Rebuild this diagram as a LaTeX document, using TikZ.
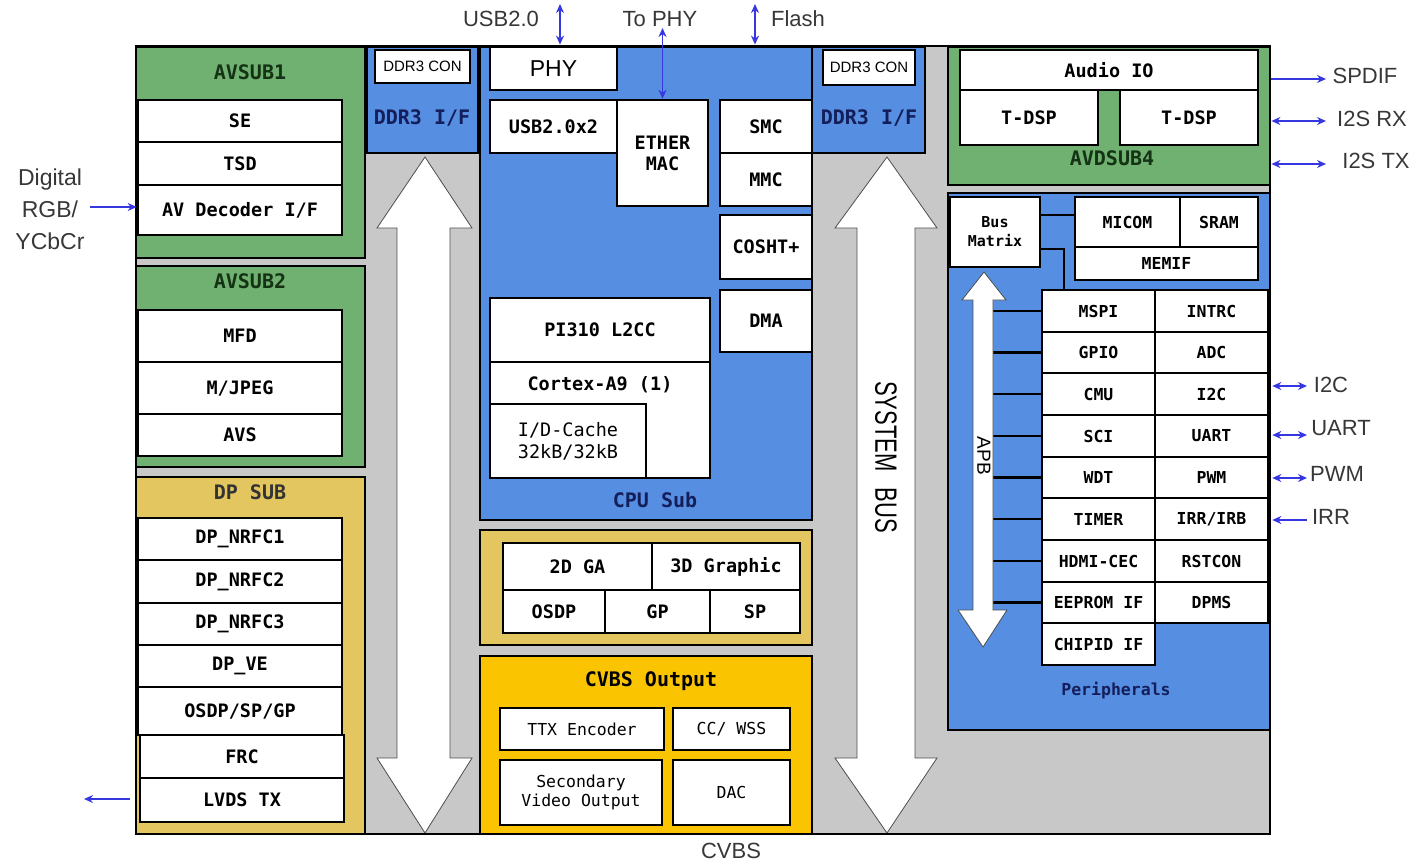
\documentclass[tikz,border=0pt]{standalone}
\usepackage{fontspec}
\setmainfont{Liberation Sans}
\newfontfamily\monof{DejaVu Sans Mono}
\usetikzlibrary{arrows.meta}
\definecolor{bgray}{RGB}{200,200,200}
\definecolor{cblue}{RGB}{86,142,226}
\definecolor{cgreen}{RGB}{112,176,112}
\definecolor{ctan}{RGB}{228,198,96}
\definecolor{cyel}{RGB}{250,196,0}
\definecolor{abl}{RGB}{55,55,225}
\definecolor{navy}{RGB}{20,30,90}
\definecolor{dgreen}{RGB}{20,50,20}
\definecolor{lbl}{RGB}{55,55,55}
\newcommand\fLb{\monof\bfseries\fontsize{18.5}{21}\selectfont}
\newcommand\fPe{\monof\bfseries\fontsize{16.5}{19}\selectfont}
\newcommand\fRg{\monof\fontsize{16.5}{19}\selectfont}
\newcommand\fTt{\monof\bfseries\fontsize{20}{22}\selectfont}
\newcommand\fEx{\fontsize{22}{32}\selectfont}
\newcommand{\blk}[7][]{\node[bx,minimum width={#5-#3},minimum height={#6-#4},#1] (#2) at ({(#3+#5)/2},{(#4+#6)/2}) {#7};}
\begin{document}
\begin{tikzpicture}[x=1pt,y=-1pt,
  bx/.style={draw=black,fill=white,line width=2.6pt,inner sep=0pt,align=center,font=\fLb},
  ctr/.style={draw=black,line width=2.8pt,inner sep=0pt},
  ttl/.style={font=\fTt,inner sep=0pt},
  ext/.style={font=\fEx,text=lbl,inner sep=0pt,align=center},
  conn/.style={draw=abl,line width=1.4pt},
  sa/.style={conn,-{Stealth[length=9pt,width=8pt]}},
  da/.style={conn,{Stealth[length=9pt,width=8pt]}-{Stealth[length=9pt,width=8pt]}},
  bigarrow/.style={fill=white,draw=black!70,line width=0.8pt},
  tap/.style={draw=black,line width=2.6pt}]
\useasboundingbox (0,0) rectangle (1414,863);
% background
\fill[bgray] (136,46) rectangle (1270,834);
% containers
\blk[ctr,fill=cgreen]{avs1}{136}{47}{365}{258}{}
\blk[ctr,fill=cgreen]{avs2}{136}{266}{365}{467}{}
\blk[ctr,fill=ctan]{dpsub}{136}{477}{365}{834}{}
\blk[ctr,fill=cblue]{ddrL}{367}{47}{478}{153}{}
\blk[ctr,fill=cblue]{cpu}{480}{47}{812}{520}{}
\blk[ctr,fill=ctan]{gfx}{480}{530}{812}{645}{}
\blk[ctr,fill=cyel]{cvbs}{480}{656}{812}{834}{}
\blk[ctr,fill=cblue]{ddrR}{812}{47}{925}{153}{}
\blk[ctr,fill=cgreen]{avd}{948}{47}{1270}{185}{}
\blk[ctr,fill=cblue]{peri}{948}{193}{1270}{730}{}
% titles
\node[ttl,text=dgreen] (t1) at (250,72) {AVSUB1};
\node[ttl,text=dgreen] (t2) at (250,281) {AVSUB2};
\node[ttl,text=black!80] (t3) at (250,492) {DP SUB};
\node[ttl,text=navy] (t4) at (422,118) {DDR3 I/F};
\node[ttl,text=navy] (t5) at (869,118) {DDR3 I/F};
\node[ttl,text=navy] (t6) at (655,500) {CPU Sub};
\node[ttl,text=black] (t7) at (651,681) {CVBS Output};
\node[ttl,text=dgreen] (t8) at (1112,158) {AVDSUB4};
\node[ttl,text=navy,font=\fPe] (t9) at (1116,690) {Peripherals};
% DDR3 CON
\blk[font=\fontsize{15}{17}\selectfont,line width=2pt]{conL}{375}{50}{470}{83}{DDR3 CON}
\blk[font=\fontsize{15}{17}\selectfont,line width=2pt]{conR}{823}{50}{915}{85}{DDR3 CON}
% AVSUB1
\blk{se}{138}{100}{342}{142}{SE}
\blk{tsd}{138}{142}{342}{185}{TSD}
\blk{avdec}{138}{185}{342}{235}{AV Decoder I/F}
% AVSUB2
\blk{mfd}{138}{310}{342}{362}{MFD}
\blk{mjpeg}{138}{362}{342}{414}{M/JPEG}
\blk{avsb}{138}{414}{342}{456}{AVS}
% DP SUB
\blk{nrfc1}{138}{518}{342}{560}{DP\_NRFC1}
\blk{nrfc2}{138}{560}{342}{603}{DP\_NRFC2}
\blk{nrfc3}{138}{603}{342}{645}{DP\_NRFC3}
\blk{dpve}{138}{645}{342}{687}{DP\_VE}
\blk{osdpsp}{138}{687}{342}{735}{OSDP/SP/GP}
\blk{frc}{140}{735}{344}{778}{FRC}
\blk{lvds}{140}{778}{344}{822}{LVDS TX}
% CPU sub
\blk[font=\fontsize{23}{25}\selectfont]{phy}{490}{47}{617}{90}{PHY}
\blk{usb}{490}{100}{617}{153}{USB2.0x2}
\blk{ether}{617}{100}{708}{206}{ETHER\\MAC}
\blk{smc}{720}{100}{812}{153}{SMC}
\blk{mmc}{720}{153}{812}{206}{MMC}
\blk{cosht}{720}{215}{812}{279}{COSHT+}
\blk{dma}{720}{290}{812}{352}{DMA}
\blk{l2cc}{490}{298}{710}{362}{PI310 L2CC}
\blk{cortex}{490}{362}{710}{478}{}
\node[font=\fLb,inner sep=0pt] (cortexT) at (600,385) {Cortex-A9 (1)};
\blk[font=\monof\fontsize{18.5}{22}\selectfont]{cache}{490}{404}{646}{478}{I/D-Cache\\32kB/32kB}
% graphics
\blk{ga2}{503}{543}{652}{590}{2D GA}
\blk{g3d}{652}{543}{800}{590}{3D Graphic}
\blk{osdp}{503}{590}{605}{633}{OSDP}
\blk{gp}{605}{590}{710}{633}{GP}
\blk{sp}{710}{590}{800}{633}{SP}
% CVBS
\blk[font=\fRg]{ttx}{500}{708}{664}{750}{TTX Encoder}
\blk[font=\fRg]{ccw}{673}{708}{790}{750}{CC/ WSS}
\blk[font=\fRg]{svo}{500}{760}{662}{825}{Secondary\\Video Output}
\blk[font=\fRg]{dac}{673}{760}{790}{825}{DAC}
% AVDSUB4
\blk{audio}{960}{50}{1258}{90}{Audio IO}
\blk{tdsp1}{960}{90}{1098}{145}{T-DSP}
\blk{tdsp2}{1120}{90}{1258}{145}{T-DSP}
% peripherals
\draw[tap] (1040,215) -- (1075,215);
\draw[tap] (1040,249) -- (1064,249) -- (1064,290);
\blk[font=\monof\bfseries\fontsize{15}{19}\selectfont]{busm}{950}{197}{1040}{267}{Bus\\Matrix}
\blk[font=\fPe]{micom}{1075}{197}{1180}{247}{MICOM}
\blk[font=\fPe]{sram}{1180}{197}{1258}{247}{SRAM}
\blk[font=\fPe]{memif}{1075}{247}{1258}{280}{MEMIF}
\blk[font=\fPe]{mspi}{1042}{290}{1155}{332}{MSPI}
\blk[font=\fPe]{intrc}{1155}{290}{1268}{332}{INTRC}
\blk[font=\fPe]{gpio}{1042}{332}{1155}{373}{GPIO}
\blk[font=\fPe]{adc}{1155}{332}{1268}{373}{ADC}
\blk[font=\fPe]{cmu}{1042}{373}{1155}{415}{CMU}
\blk[font=\fPe]{itwoc}{1155}{373}{1268}{415}{I2C}
\blk[font=\fPe]{sci}{1042}{415}{1155}{457}{SCI}
\blk[font=\fPe]{uart}{1155}{415}{1268}{457}{UART}
\blk[font=\fPe]{wdt}{1042}{457}{1155}{498}{WDT}
\blk[font=\fPe]{pwm}{1155}{457}{1268}{498}{PWM}
\blk[font=\fPe]{timer}{1042}{498}{1155}{540}{TIMER}
\blk[font=\fPe]{irr}{1155}{498}{1268}{540}{IRR/IRB}
\blk[font=\fPe]{hdmi}{1042}{540}{1155}{582}{HDMI-CEC}
\blk[font=\fPe]{rstcon}{1155}{540}{1268}{582}{RSTCON}
\blk[font=\fPe]{eeprom}{1042}{582}{1155}{623}{EEPROM IF}
\blk[font=\fPe]{dpms}{1155}{582}{1268}{623}{DPMS}
\blk[font=\fPe]{chipid}{1042}{623}{1155}{665}{CHIPID IF}
\foreach \n in {mspi,gpio,cmu,sci,wdt,timer,hdmi,eeprom}
  \draw[tap] (\n.west) -- ++(-50,0);
% big arrows
\draw[bigarrow] (425,157) -- (377,228) -- (397,228) -- (397,758) -- (377,758) -- (425,833)
  -- (472,758) -- (450,758) -- (450,228) -- (472,228) -- cycle;
\draw[bigarrow] (887,157) -- (835,228) -- (857,228) -- (857,758) -- (835,758) -- (887,833)
  -- (937,758) -- (915,758) -- (915,228) -- (937,228) -- cycle;
\draw[bigarrow] (984,272) -- (962,300) -- (973,300) -- (973,610) -- (958,610) -- (983,647)
  -- (1007,610) -- (993,610) -- (993,300) -- (1006,300) -- cycle;
\node[font=\fontsize{22}{24}\selectfont,rotate=-90,yscale=1.4,inner sep=0pt] (sysbus) at (886,457) {SYSTEM\hspace{16pt}BUS};
\node[font=\fontsize{19}{21}\selectfont,rotate=-90,inner sep=0pt] (apb) at (984,456) {APB};
% outer border
\node[ctr,minimum width=1134,minimum height=788] (outer) at (703,440) {};
% external labels and connectors
\node[ext] (usbL) at (501,19) {USB2.0};
\node[ext] (tophy) at (660,19) {To PHY};
\node[ext] (flash) at (798,19) {Flash};
\coordinate (usbT) at (560,4);
\draw[da] (usbT) -- (usbT |- outer.north);
\coordinate (ethT) at (662.5,28);
\draw[da] (ethT) -- (ether.north);
\coordinate (flT) at (755,4);
\draw[da] (flT) -- (flT |- outer.north);
\node[ext] (spdif) at (1365,76) {SPDIF};
\node[ext] (i2srx) at (1372,119) {I2S RX};
\node[ext] (i2stx) at (1376,161) {I2S TX};
\coordinate (spA) at (1326,79);
\coordinate (rxA) at (1326,121);
\coordinate (txA) at (1326,164);
\draw[sa] (spA -| avd.east) -- (spA);
\draw[da] (rxA -| avd.east) -- (rxA);
\draw[da] (txA -| avd.east) -- (txA);
\node[ext] (i2cL) at (1331,385) {I2C};
\node[ext] (uartL) at (1341,428) {UART};
\node[ext] (pwmL) at (1337,474) {PWM};
\node[ext] (irrL) at (1331,517) {IRR};
\coordinate (i2cA) at (1307,386);
\coordinate (uartA) at (1307,435);
\coordinate (pwmA) at (1307,478);
\coordinate (irrA) at (1307,520);
\draw[da] ([xshift=3pt]i2cA -| itwoc.east) -- (i2cA);
\draw[da] ([xshift=3pt]uartA -| uart.east) -- (uartA);
\draw[da] ([xshift=3pt]pwmA -| pwm.east) -- (pwmA);
\draw[sa] (irrA) -- ([xshift=3pt]irrA -| irr.east);
\node[ext,font=\fontsize{23}{32}\selectfont] (digital) at (50,209) {Digital\\RGB/\\YCbCr};
\coordinate (digA) at (90,207);
\draw[sa] (digA) -- (digA -| avdec.west);
\coordinate (lvdsA) at (84,799);
\draw[sa] ([xshift=-9pt]lvdsA -| lvds.west) -- (lvdsA);
\node[ext] (cvbsL) at (731,851) {CVBS};
\end{tikzpicture}
\end{document}
